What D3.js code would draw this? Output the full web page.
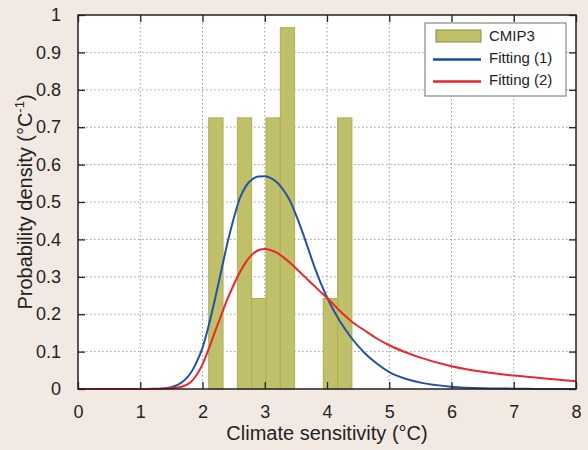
<!doctype html>
<html>
<head>
<meta charset="utf-8">
<title>Climate sensitivity</title>
<script src="https://cdnjs.cloudflare.com/ajax/libs/d3/7.8.5/d3.min.js"></script>
<style>
  body { margin: 0; background: #f2e9e3; }
  svg { display: block; }
  text { font-family: "Liberation Sans", Arial, "Noto Sans CJK JP", sans-serif; fill: #222; }
</style>
</head>
<body>
<svg width="588" height="450"></svg>
<script>
// histogram of CMIP3 models (density), 10 bins from 2.1 to 4.4
var binEdges = [2.1, 2.33, 2.56, 2.79, 3.02, 3.25, 3.48, 3.71, 3.94, 4.17, 4.4];
var cmip3 = [0.725, 0, 0.725, 0.242, 0.725, 0.966, 0, 0, 0.242, 0.725];

// fitted curves
var fitX = [0, 0.5, 1, 1.2, 1.3, 1.4, 1.5, 1.6, 1.7, 1.8, 1.9, 2.0, 2.1, 2.2, 2.3, 2.4, 2.5, 2.6, 2.7, 2.8, 2.9,
            3.0, 3.1, 3.2, 3.3, 3.4, 3.5, 3.6, 3.7, 3.8, 3.9, 4.0, 4.2, 4.4, 4.6, 4.8, 5.0, 5.25, 5.5, 6.0, 6.5, 7.0, 7.5, 8.0];
var fit1 = [0, 0, 0, 0.0005, 0.001, 0.002, 0.005, 0.011, 0.022, 0.04, 0.07, 0.11, 0.17, 0.24, 0.315, 0.39, 0.455, 0.51, 0.543, 0.561, 0.568,
            0.569, 0.564, 0.552, 0.532, 0.505, 0.466, 0.422, 0.374, 0.326, 0.283, 0.245, 0.183, 0.135, 0.097, 0.068, 0.045, 0.028, 0.017, 0.006, 0.002, 0.001, 0, 0];
var fit2 = [0, 0, 0, 0, 0, 0.001, 0.002, 0.004, 0.008, 0.017, 0.036, 0.066, 0.107, 0.153, 0.197, 0.24, 0.278, 0.312, 0.34, 0.36, 0.371,
            0.374, 0.371, 0.364, 0.352, 0.338, 0.323, 0.307, 0.291, 0.275, 0.259, 0.244, 0.21, 0.18, 0.157, 0.135, 0.117, 0.099, 0.084, 0.061, 0.046, 0.036, 0.028, 0.021];

var xTicks = [0, 1, 2, 3, 4, 5, 6, 7, 8];
var yTicks = [0, 0.1, 0.2, 0.3, 0.4, 0.5, 0.6, 0.7, 0.8, 0.9, 1];
var legendNames = ["CMIP3", "Fitting (1)", "Fitting (2)"];

var plotL = 78, plotR = 576, plotT = 15, plotB = 389;
var svg = d3.select("svg");

var x = d3.scaleLinear().domain([0, 8]).range([plotL, plotR]);
var y = d3.scaleLinear().domain([0, 1]).range([plotB, plotT]);

svg.append("rect")
    .attr("x", plotL).attr("y", plotT)
    .attr("width", plotR - plotL).attr("height", plotB - plotT)
    .attr("fill", "#fff");

// dotted grid
svg.append("g").selectAll("line")
    .data(xTicks.slice(1, -1))
    .enter().append("line")
    .attr("x1", d => x(d)).attr("x2", d => x(d))
    .attr("y1", plotT).attr("y2", plotB)
    .attr("stroke", "#999").attr("stroke-dasharray", "1.5,2.5");
svg.append("g").selectAll("line")
    .data(yTicks.slice(1, -1))
    .enter().append("line")
    .attr("x1", plotL).attr("x2", plotR)
    .attr("y1", d => y(d)).attr("y2", d => y(d))
    .attr("stroke", "#999").attr("stroke-dasharray", "1.5,2.5");

// bars
var bins = cmip3.map((v, i) => ({x0: binEdges[i], x1: binEdges[i + 1], v: v})).filter(d => d.v > 0);
svg.append("g").selectAll("rect")
    .data(bins)
    .enter().append("rect")
    .attr("x", d => x(d.x0))
    .attr("width", d => x(d.x1) - x(d.x0))
    .attr("y", d => y(d.v))
    .attr("height", d => y(0) - y(d.v))
    .attr("fill", "#c0bf6a")
    .attr("stroke", "#b0ae52").attr("stroke-width", 1);

// curves
var line = d3.line()
    .x(d => x(d[0])).y(d => y(d[1]))
    .curve(d3.curveMonotoneX);
svg.append("path")
    .attr("d", line(fitX.map((v, i) => [v, fit1[i]])))
    .attr("fill", "none").attr("stroke", "#2550a8").attr("stroke-width", 2);
svg.append("path")
    .attr("d", line(fitX.map((v, i) => [v, fit2[i]])))
    .attr("fill", "none").attr("stroke", "#e8282c").attr("stroke-width", 2);

// axes with inward ticks on all sides
svg.append("g").attr("transform", "translate(0," + plotB + ")")
    .call(d3.axisBottom(x).tickValues(xTicks).tickSizeInner(-7).tickSizeOuter(0).tickPadding(16));
svg.append("g").attr("transform", "translate(0," + plotT + ")")
    .call(d3.axisTop(x).tickValues(xTicks).tickSizeInner(-7).tickSizeOuter(0).tickFormat(""));
svg.append("g").attr("transform", "translate(" + plotL + ",0)")
    .call(d3.axisLeft(y).tickValues(yTicks).tickSizeInner(-7).tickSizeOuter(0).tickPadding(17).tickFormat(d3.format("~g")));
svg.append("g").attr("transform", "translate(" + plotR + ",0)")
    .call(d3.axisRight(y).tickValues(yTicks).tickSizeInner(-7).tickSizeOuter(0).tickFormat(""));

svg.selectAll(".domain").remove();
svg.selectAll(".tick line").attr("stroke", "#222").attr("stroke-width", 1.3);
svg.selectAll(".tick text").style("font-size", "18px").attr("fill", "#222");

svg.append("rect")
    .attr("x", plotL).attr("y", plotT)
    .attr("width", plotR - plotL).attr("height", plotB - plotT)
    .attr("fill", "none").attr("stroke", "#222").attr("stroke-width", 1.5);

// axis titles
svg.append("text")
    .attr("x", (plotL + plotR) / 2).attr("y", 440)
    .attr("text-anchor", "middle").style("font-size", "20px")
    .text("Climate sensitivity (°C)");
var yt = svg.append("text")
    .attr("transform", "translate(32," + ((plotT + plotB) / 2) + ") rotate(-90)")
    .attr("text-anchor", "middle").style("font-size", "20px");
yt.append("tspan").text("Probability density (°C");
yt.append("tspan").attr("dy", -8).style("font-size", "13px").text("-1");
yt.append("tspan").attr("dy", 8).text(")");

// legend
var lg = svg.append("g");
lg.append("rect")
    .attr("x", 425).attr("y", 23).attr("width", 141).attr("height", 73)
    .attr("fill", "#fff").attr("stroke", "#888").attr("stroke-width", 1.2);
lg.append("rect")
    .attr("x", 436).attr("y", 30).attr("width", 45).attr("height", 12)
    .attr("fill", "#c0bf6a").attr("stroke", "#8a8a40");
lg.append("line").attr("x1", 433).attr("x2", 481).attr("y1", 59.5).attr("y2", 59.5)
    .attr("stroke", "#0a50a8").attr("stroke-width", 2.5);
lg.append("line").attr("x1", 433).attr("x2", 481).attr("y1", 81.5).attr("y2", 81.5)
    .attr("stroke", "#e8242a").attr("stroke-width", 2.5);
lg.selectAll("text.lab")
    .data(legendNames)
    .enter().append("text")
    .attr("class", "lab")
    .attr("x", 489).attr("y", (d, i) => 41 + i * 22)
    .style("font-size", "15px")
    .text(d => d);
</script>
</body>
</html>
